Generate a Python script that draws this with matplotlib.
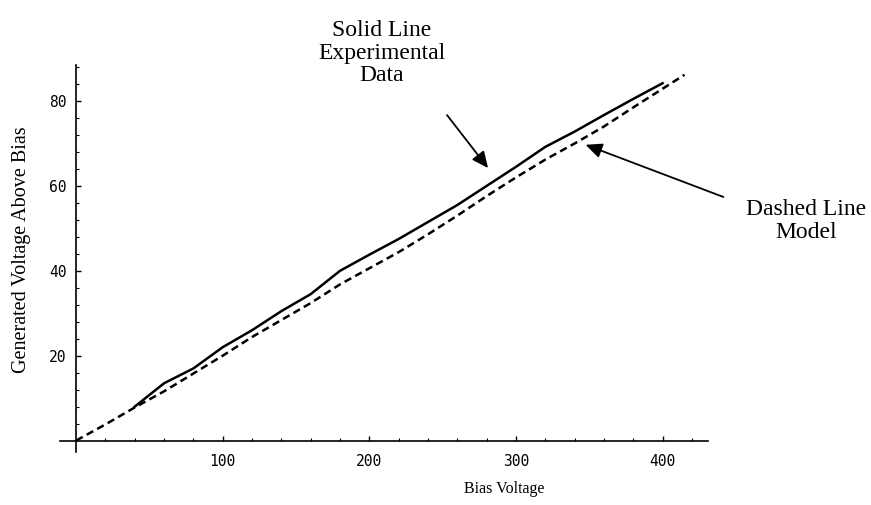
import matplotlib
matplotlib.use("Agg")
import matplotlib.pyplot as plt
import numpy as np
from matplotlib.ticker import FixedLocator

bias_exp = [40, 60, 80, 100, 120, 140, 160, 180, 200, 220, 240, 260, 280,
            300, 320, 340, 360, 380, 400]
volt_exp = [8.0, 13.5, 17.0, 22.0, 26.0, 30.5, 34.5, 40.0, 43.8, 47.5, 51.5,
            55.5, 60.0, 64.5, 69.2, 72.8, 76.7, 80.5, 84.2]

bias_model = [0, 20, 40, 60, 80, 100, 120, 140, 160, 180, 200, 220, 240, 260,
              280, 300, 320, 340, 360, 380, 400, 415]
volt_model = [0.0, 3.8, 7.8, 11.6, 15.8, 20.0, 24.4, 28.4, 32.4, 36.8, 40.6,
              44.4, 48.6, 53.0, 57.6, 62.0, 66.2, 70.0, 74.0, 78.5, 82.9, 86.2]

x_major = [100, 200, 300, 400]
y_major = [20, 40, 60, 80]

serif = "Liberation Serif"
mono = "DejaVu Sans Mono"

fig = plt.figure(figsize=(8.71, 5.05), dpi=100)
ax = fig.add_axes([60 / 871, 53 / 505, 648 / 871, 387 / 505])

ax.plot(bias_exp, volt_exp, color="black", lw=1.8, solid_joinstyle="round")
ax.plot(bias_model, volt_model, color="black", lw=1.8, linestyle=(0, (3.0, 1.8)))

ax.set_xlim(-11, 431)
ax.set_ylim(-2.7, 88.5)

for side in ["top", "right"]:
    ax.spines[side].set_visible(False)
ax.spines["left"].set_position(("data", 0))
ax.spines["bottom"].set_position(("data", 0))
ax.spines["left"].set_linewidth(1.2)
ax.spines["bottom"].set_linewidth(1.2)

ax.xaxis.set_major_locator(FixedLocator(x_major))
ax.yaxis.set_major_locator(FixedLocator(y_major))
ax.xaxis.set_minor_locator(FixedLocator([v for v in np.arange(20, 431, 20) if v % 100]))
ax.yaxis.set_minor_locator(FixedLocator([v for v in np.arange(4, 89, 4) if v % 20]))
ax.tick_params(which="major", direction="in", length=3.5, width=1.0)
ax.tick_params(which="minor", direction="in", length=2.0, width=0.8)
ax.tick_params(axis="x", which="major", pad=10)
ax.tick_params(axis="y", which="major", pad=7)
for lab in ax.get_xticklabels() + ax.get_yticklabels():
    lab.set_fontfamily(mono)
    lab.set_fontsize(10.5)

ax.set_xlabel("Bias Voltage", fontfamily=serif, fontsize=11.5)
ax.xaxis.set_label_coords(0.685, -0.075)
ax.set_ylabel("Generated Voltage Above Bias", fontfamily=serif, fontsize=14.5,
              va="center")
ax.yaxis.set_label_coords(-0.059, 0.522)

fig.text(382 / 871, 1 - 53 / 505, "Solid Line\nExperimental\nData",
         fontfamily=serif, fontsize=17, ha="center", va="center",
         multialignment="center", linespacing=1.1)
fig.text(806 / 871, 1 - 221 / 505, "Dashed Line\nModel",
         fontfamily=serif, fontsize=17, ha="center", va="center",
         multialignment="center", linespacing=1.15)

arrow = dict(arrowstyle="-|>,head_length=0.55,head_width=0.25", color="black",
             lw=1.3, shrinkA=0, shrinkB=0, mutation_scale=18)
ax.annotate("", xy=(281, 64.2), xytext=(253, 76.7), arrowprops=arrow,
            annotation_clip=False)
ax.annotate("", xy=(347.5, 69.7), xytext=(441.5, 57.4), arrowprops=arrow,
            annotation_clip=False)

fig.savefig("out.png", dpi=100)
